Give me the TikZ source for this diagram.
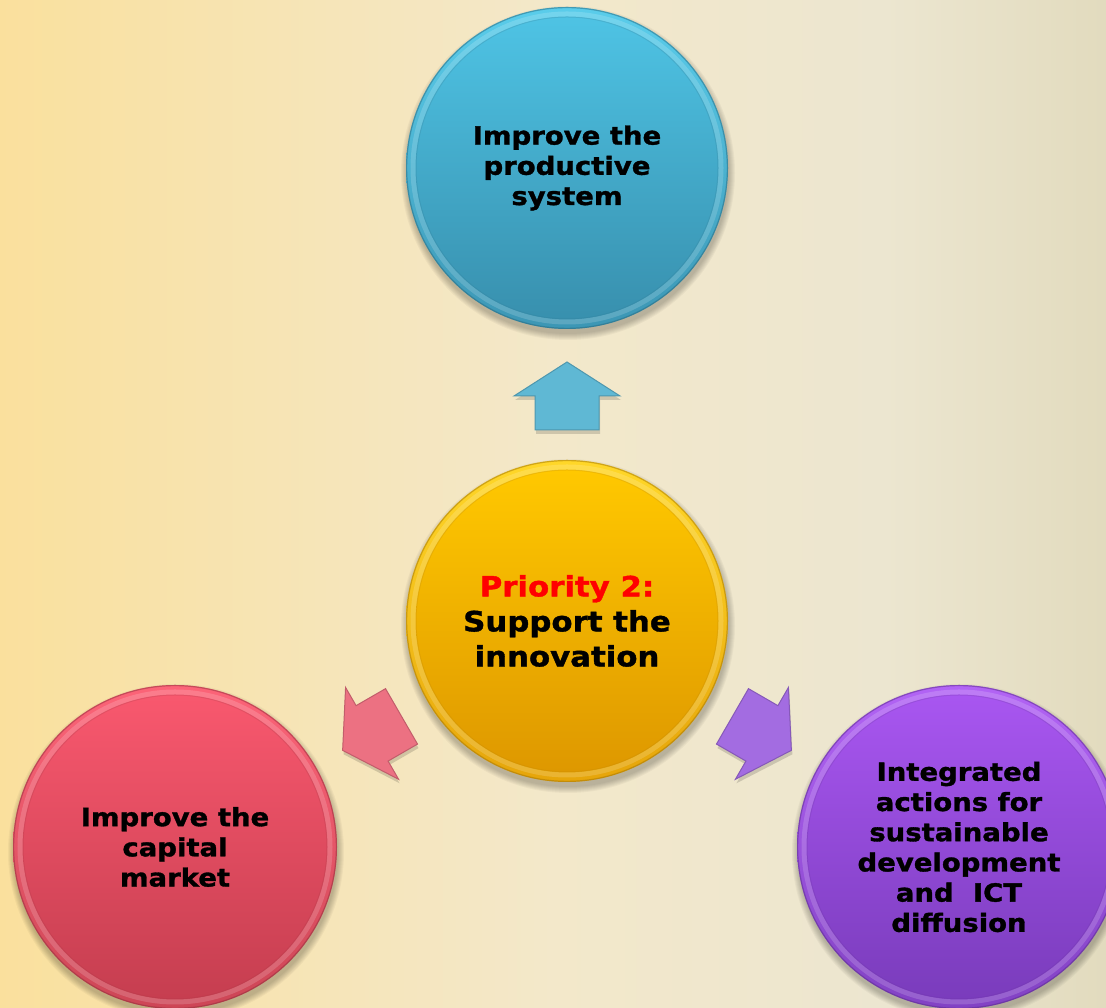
\documentclass[tikz,border=0pt]{standalone}
\usepackage{fontspec}
\setmainfont{DejaVu Sans}[FakeStretch=1.1, BoldFeatures={FakeBold=1.3}]
\usetikzlibrary{calc}
\pgfdeclarelayer{back}
\pgfdeclarelayer{bg}
\pgfsetlayers{back,bg,main}

\definecolor{bgA}{RGB}{250,224,157}
\definecolor{bgB}{RGB}{246,229,185}
\definecolor{bgC}{RGB}{243,232,202}
\definecolor{bgD}{RGB}{236,230,208}
\definecolor{bgE}{RGB}{226,219,190}
\pgfdeclarehorizontalshading{bgshade}{100bp}{color(0bp)=(bgA); color(25bp)=(bgA); color(40bp)=(bgB); color(50bp)=(bgC); color(65bp)=(bgD); color(75bp)=(bgE); color(100bp)=(bgE)}

% blue
\definecolor{blRimT}{RGB}{90,205,235}
\definecolor{blRimB}{RGB}{60,150,180}
\definecolor{blFaceT}{RGB}{78,195,228}
\definecolor{blFaceB}{RGB}{56,144,174}
% gold
\definecolor{goRimT}{RGB}{255,215,40}
\definecolor{goRimB}{RGB}{230,165,10}
\definecolor{goFaceT}{RGB}{255,200,0}
\definecolor{goFaceB}{RGB}{222,152,0}
% pink
\definecolor{piRimT}{RGB}{252,100,120}
\definecolor{piRimB}{RGB}{205,70,86}
\definecolor{piFaceT}{RGB}{248,88,110}
\definecolor{piFaceB}{RGB}{198,62,80}
% purple
\definecolor{puRimT}{RGB}{178,100,245}
\definecolor{puRimB}{RGB}{130,66,196}
\definecolor{puFaceT}{RGB}{168,86,240}
\definecolor{puFaceB}{RGB}{122,60,188}
% arrows
\definecolor{arBlue}{RGB}{95,184,212}
\definecolor{arPink}{RGB}{236,113,130}
\definecolor{arPurple}{RGB}{163,108,225}
\definecolor{prioRed}{RGB}{255,0,0}

\newcommand\decobubble[6]{%
  \foreach \k in {0,...,6}{%
    \fill[black,opacity=0.035] ($(#1.center)+(1,-5)$) circle[radius={#2pt+6pt-\k pt}];}
  \shade[top color=#3, bottom color=#4] (#1.center) circle[radius={#2pt}];
  \draw[#4!70!black, opacity=.5, line width=1.2pt] (#1.center) circle[radius={#2pt-0.6pt}];
  \draw[white, opacity=.16, line width=5pt] (#1.center) circle[radius={#2pt-7pt}];
  \shade[top color=#5, bottom color=#6] (#1.center) circle[radius={#2pt-10pt}];
  \draw[#6!85!black, opacity=.25, line width=1pt] (#1.center) circle[radius={#2pt-10pt}];
}

\tikzset{
  bubble/.style={circle, inner sep=0pt, minimum size=322pt, align=center, text=black},
  smallfont/.style={font=\fontsize{25}{30.2}\selectfont\bfseries},
  bigfont/.style={font=\fontsize{28}{35}\selectfont\bfseries},
  barrow/.pic={
    \fill[#1, draw=#1!82!black, line width=1pt, line join=miter]
      (0,34) -- (53,0) -- (32,0) -- (32,-34) -- (-32,-34) -- (-32,0) -- (-53,0) -- cycle;
  },
  barrowshadow/.pic={
    \fill[black, opacity=.15]
      (0,34) -- (53,0) -- (32,0) -- (32,-34) -- (-32,-34) -- (-32,0) -- (-53,0) -- cycle;
  }
}

\begin{document}
\begin{tikzpicture}[x=1pt,y=1pt]
\useasboundingbox (0,0) rectangle (1106,1008);
\begin{pgfonlayer}{back}
  \shade[shading=bgshade] (0,0) rectangle (1106,1008);
\end{pgfonlayer}

\node[bubble, smallfont] (top) at (567,840) {Improve the\\productive\\system};
\node[bubble, bigfont] (ctr) at (567,387) {\textcolor{prioRed}{Priority 2:}\\Support the\\innovation};
\node[bubble, smallfont] (left) at (175,161) {Improve the\\capital\\market};
\node[bubble, smallfont] (right) at (959,161) {Integrated\\actions for\\sustainable\\development\\and\ \ ICT\\diffusion};

\begin{pgfonlayer}{bg}
  \decobubble{top}{161}{blRimT}{blRimB}{blFaceT}{blFaceB}
  \decobubble{ctr}{161}{goRimT}{goRimB}{goFaceT}{goFaceB}
  \decobubble{left}{162}{piRimT}{piRimB}{piFaceT}{piFaceB}
  \decobubble{right}{162}{puRimT}{puRimB}{puFaceT}{puFaceB}
\end{pgfonlayer}

\coordinate (aT) at ($(ctr)!225pt!(top)$);
\coordinate (aL) at ($(ctr)!225pt!(left)$);
\coordinate (aR) at ($(ctr)!225pt!(right)$);

\pic at ($(aT)+(1,-4)$) {barrowshadow};
\pic[rotate=120] at ($(aL)+(1,-4)$) {barrowshadow};
\pic[rotate=-120] at ($(aR)+(1,-4)$) {barrowshadow};
\pic at (aT) {barrow=arBlue};
\pic[rotate=120] at (aL) {barrow=arPink};
\pic[rotate=-120] at (aR) {barrow=arPurple};
\end{tikzpicture}
\end{document}
